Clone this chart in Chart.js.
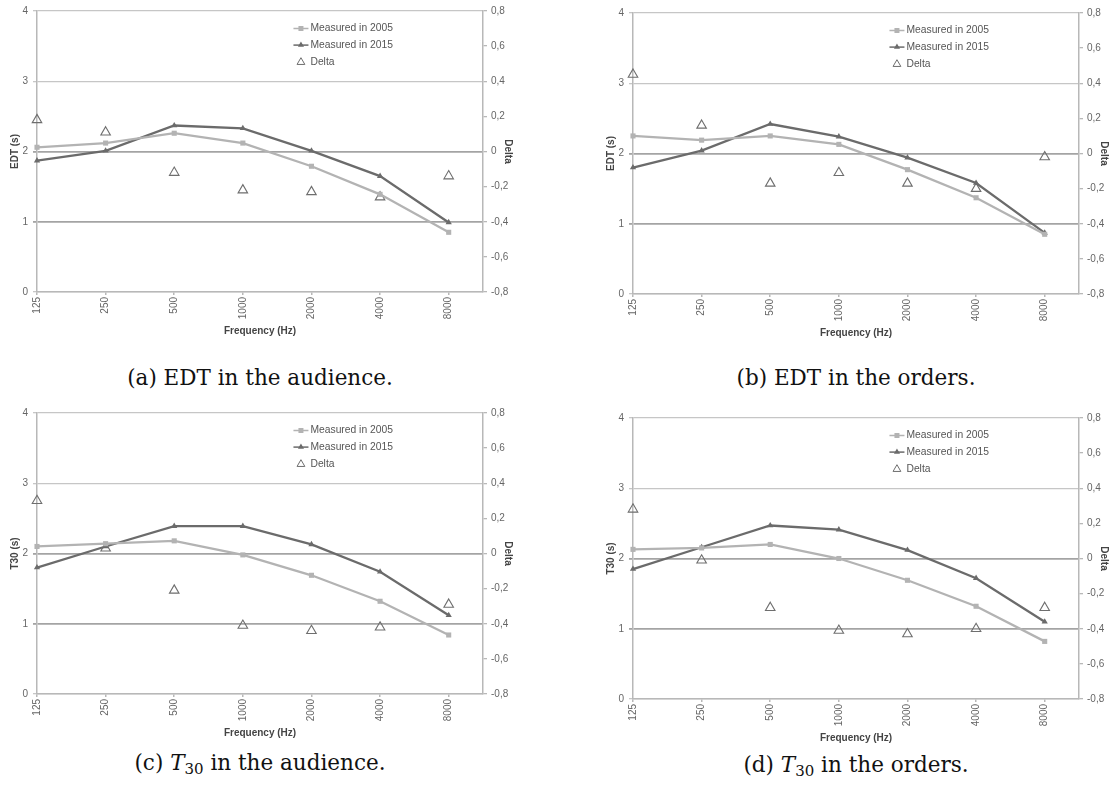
<!DOCTYPE html>
<html>
<head>
<meta charset="utf-8">
<script src="https://cdn.jsdelivr.net/npm/chart.js@4.4.1/dist/chart.umd.min.js"></script>
<style>
  body { margin: 0; background: #fff; width: 1118px; height: 792px; position: relative; overflow: hidden; }
  canvas.panel { position: absolute; }
  .cap { position: absolute; width: 520px; text-align: center; font-family: "DejaVu Serif", serif;
         font-size: 21.5px; line-height: 26px; color: #111; }
  .cap sub { font-size: 15px; vertical-align: -4px; line-height: 0; }
</style>
</head>
<body>
<canvas class="panel" id="edtAudience" width="530" height="345" style="left:0;top:0"></canvas>
<canvas class="panel" id="edtOrders" width="530" height="345" style="left:596px;top:2px"></canvas>
<canvas class="panel" id="t30Audience" width="530" height="345" style="left:0;top:402px"></canvas>
<canvas class="panel" id="t30Orders" width="530" height="345" style="left:596px;top:407px"></canvas>

<div class="cap" style="left:0;top:365px">(a) EDT in the audience.</div>
<div class="cap" style="left:596px;top:365px">(b) EDT in the orders.</div>
<div class="cap" style="left:0;top:750px">(c) <i>T</i><sub>30</sub> in the audience.</div>
<div class="cap" style="left:596px;top:752px">(d) <i>T</i><sub>30</sub> in the orders.</div>

<script>
// frequencies (Hz)
var frequencies = ["125", "250", "500", "1000", "2000", "4000", "8000"];

// EDT in the audience
var edtAud2005 = [2.06, 2.12, 2.26, 2.12, 1.79, 1.39, 0.85];
var edtAud2015 = [1.87, 2.01, 2.37, 2.33, 2.01, 1.65, 0.99];
var edtAudDelta = [0.18, 0.11, -0.12, -0.22, -0.23, -0.26, -0.14];

// EDT in the orders
var edtOrd2005 = [2.25, 2.19, 2.25, 2.13, 1.77, 1.37, 0.85];
var edtOrd2015 = [1.80, 2.04, 2.42, 2.24, 1.94, 1.58, 0.87];
var edtOrdDelta = [0.45, 0.16, -0.17, -0.11, -0.17, -0.20, -0.02];

// T30 in the audience
var t30Aud2005 = [2.10, 2.14, 2.18, 1.98, 1.69, 1.32, 0.84];
var t30Aud2015 = [1.80, 2.10, 2.39, 2.39, 2.13, 1.74, 1.12];
var t30AudDelta = [0.30, 0.03, -0.21, -0.41, -0.44, -0.42, -0.29];

// T30 in the orders
var t30Ord2005 = [2.13, 2.15, 2.20, 2.00, 1.69, 1.32, 0.82];
var t30Ord2015 = [1.85, 2.16, 2.47, 2.41, 2.12, 1.72, 1.10];
var t30OrdDelta = [0.28, -0.01, -0.28, -0.41, -0.43, -0.40, -0.28];

Chart.defaults.font.family = '"Liberation Sans", Arial, sans-serif';
Chart.defaults.font.size = 10;

var axisGrey = '#b8b8b8';
var light = '#b3b3b3';
var dark = '#6b6b6b';

function points(values) {
    return values.map(function (v, i) { return { x: i, y: v }; });
}

function triangle(ctx, x, y, r) {
    ctx.beginPath();
    ctx.moveTo(x, y - r);
    ctx.lineTo(x + r * 0.866, y + r * 0.5);
    ctx.lineTo(x - r * 0.866, y + r * 0.5);
    ctx.closePath();
}

// legend drawn inside the plot, top right
var insideLegend = {
    id: 'insideLegend',
    afterDraw: function (chart) {
        var ctx = chart.ctx, a = chart.chartArea;
        var x0 = a.left + 0.575 * (a.right - a.left);
        var y0 = a.top + 17.5;
        ctx.save();
        ctx.font = '10.3px "Liberation Sans", Arial, sans-serif';
        ctx.textBaseline = 'middle';
        chart.data.datasets.forEach(function (ds, i) {
            var y = y0 + i * 16.6;
            var cx = x0 + 7.5;
            if (ds.showLine !== false) {
                ctx.strokeStyle = ds.borderColor;
                ctx.lineWidth = 1.5;
                ctx.beginPath(); ctx.moveTo(x0, y); ctx.lineTo(x0 + 15, y); ctx.stroke();
                ctx.fillStyle = ds.borderColor;
                if (ds.pointStyle === 'rect') {
                    ctx.fillRect(cx - 2.5, y - 2.5, 5, 5);
                } else {
                    triangle(ctx, cx, y, 3.5); ctx.fill();
                }
            } else {
                ctx.strokeStyle = ds.borderColor;
                ctx.lineWidth = 1;
                triangle(ctx, cx, y + 0.5, 4.5); ctx.stroke();
            }
            ctx.fillStyle = '#555';
            ctx.fillText(ds.label, x0 + 17, y);
        });
        ctx.restore();
    }
};

function makeChart(id, yTitle, old, recent, delta) {
    return new Chart(document.getElementById(id), {
        type: 'line',
        data: {
            datasets: [{
                label: 'Measured in 2005',
                data: points(old),
                yAxisID: 'y',
                clip: false,
                borderColor: light,
                backgroundColor: light,
                borderWidth: 2.3,
                pointStyle: 'rect',
                pointRadius: 3.6,
                pointBorderWidth: 0
            }, {
                label: 'Measured in 2015',
                data: points(recent),
                yAxisID: 'y',
                clip: false,
                borderColor: dark,
                backgroundColor: dark,
                borderWidth: 2.3,
                pointStyle: 'triangle',
                pointRadius: 3.6,
                pointBorderWidth: 0
            }, {
                label: 'Delta',
                data: points(delta),
                yAxisID: 'y1',
                clip: false,
                showLine: false,
                borderColor: '#6e6e6e',
                backgroundColor: 'rgba(255,255,255,0)',
                pointStyle: 'triangle',
                pointRadius: 5.5,
                pointBorderWidth: 1.1
            }]
        },
        options: {
            responsive: false,
            animation: false,
            devicePixelRatio: 1,
            layout: { padding: { top: 9, left: 0, right: 0, bottom: 0 } },
            plugins: { legend: { display: false }, tooltip: { enabled: false } },
            scales: {
                x: {
                    type: 'linear',
                    min: 0,
                    max: 6.5,
                    afterBuildTicks: function (scale) {
                        scale.ticks = frequencies.map(function (f, i) { return { value: i }; });
                    },
                    afterFit: function (scale) { scale.height = 53; },
                    ticks: {
                        autoSkip: false,
                        minRotation: 90,
                        maxRotation: 90,
                        padding: 2,
                        color: '#666',
                        callback: function (v) { return frequencies[v]; }
                    },
                    grid: { drawOnChartArea: false, drawTicks: true, tickLength: 3, color: axisGrey, lineWidth: 1.5 },
                    border: { display: true, color: axisGrey, width: 1.5 },
                    title: { display: true, text: 'Frequency (Hz)', color: '#444', font: { weight: 'bold', size: 10 },
                             padding: { top: 0, bottom: 8 } }
                },
                y: {
                    position: 'left',
                    min: 0,
                    max: 4,
                    afterFit: function (scale) { scale.width = 37; },
                    ticks: { stepSize: 1, padding: 5, color: '#666' },
                    grid: {
                        color: function (c) { return (c.tick.value === 1 || c.tick.value === 2) ? '#a4a4a4' : '#c6c6c6'; },
                        lineWidth: function (c) { return (c.tick.value === 1 || c.tick.value === 2) ? 1.8 : 1.3; },
                        tickLength: 4
                    },
                    border: { display: true, color: axisGrey, width: 1.5 },
                    title: { display: true, text: yTitle, color: '#444', font: { weight: 'bold', size: 10 },
                             padding: { top: 9, bottom: 0 } }
                },
                y1: {
                    position: 'right',
                    min: -0.8,
                    max: 0.8,
                    afterFit: function (scale) { scale.width = 47; },
                    ticks: {
                        stepSize: 0.2,
                        padding: 4,
                        color: '#666',
                        callback: function (v) {
                            if (Math.abs(v) < 1e-9) return '0';
                            return v.toFixed(1).replace('.', ',');
                        }
                    },
                    grid: { drawOnChartArea: false, tickLength: 4, color: axisGrey, lineWidth: 1.3 },
                    border: { display: true, color: axisGrey, width: 1.5 },
                    title: { display: true, text: 'Delta', color: '#444', font: { weight: 'bold', size: 10 },
                             padding: { top: 16, bottom: 0 } }
                }
            }
        },
        plugins: [insideLegend]
    });
}

makeChart('edtAudience', 'EDT (s)', edtAud2005, edtAud2015, edtAudDelta);
makeChart('edtOrders', 'EDT (s)', edtOrd2005, edtOrd2015, edtOrdDelta);
makeChart('t30Audience', 'T30 (s)', t30Aud2005, t30Aud2015, t30AudDelta);
makeChart('t30Orders', 'T30 (s)', t30Ord2005, t30Ord2015, t30OrdDelta);
</script>
</body>
</html>
